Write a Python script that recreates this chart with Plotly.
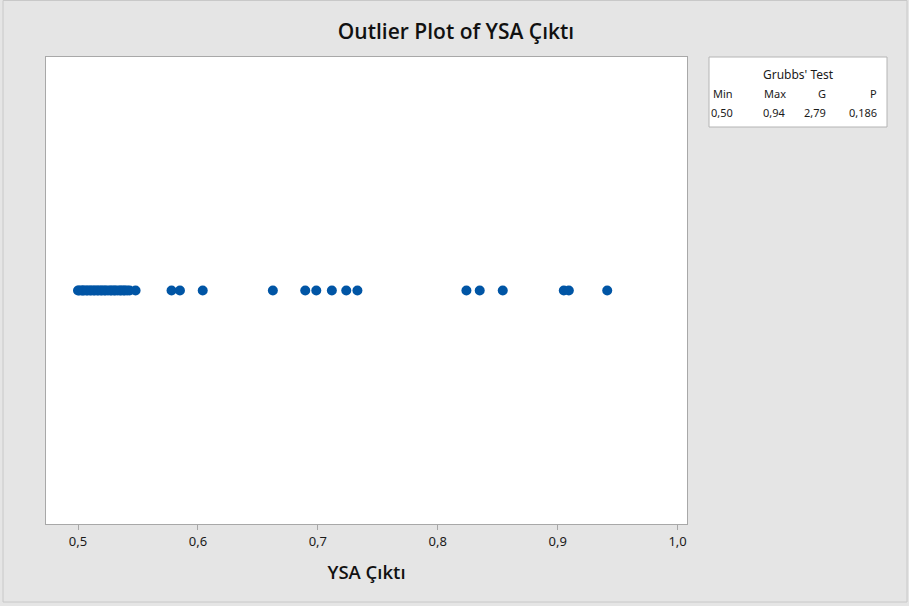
import plotly.graph_objects as go

# YSA output values
ysa_cikti = [
    0.500, 0.501, 0.503, 0.504, 0.505, 0.507, 0.508, 0.510, 0.511, 0.513,
    0.514, 0.516, 0.517, 0.519, 0.520, 0.522, 0.523, 0.525, 0.527, 0.528,
    0.530, 0.531, 0.533, 0.535, 0.536, 0.538, 0.539, 0.541, 0.543, 0.548,
    0.578, 0.585, 0.604, 0.6625, 0.6895, 0.6987, 0.7117, 0.7237, 0.733,
    0.8239, 0.835, 0.8542, 0.9051, 0.9093, 0.9413,
]

tick_vals = [0.5, 0.6, 0.7, 0.8, 0.9, 1.0]
tick_text = ["0,5", "0,6", "0,7", "0,8", "0,9", "1,0"]

# Grubbs' test summary
grubbs_headers = ["Min", "Max", "G", "P"]
grubbs_values = ["0,50", "0,94", "2,79", "0,186"]

FONT = "Noto Sans"
TITLE_FONT = "Open Sans"
BLUE = "#0055a5"
BORDER = "#a8a8a8"
TEXT = "#1a1a1a"

fig = go.Figure()
fig.add_trace(go.Scatter(
    x=ysa_cikti,
    y=[0] * len(ysa_cikti),
    mode="markers",
    marker=dict(size=10, color=BLUE),
    hoverinfo="x",
))

# plot area in pixels: x 46..687, y 57..524
L, R, T, B = 46, 687, 57, 524
W, H = R - L, B - T


def px(x):
    return (x - L) / W


def py(y):
    return (B - y) / H


shapes = [
    # outer frame
    dict(type="rect", xref="paper", yref="paper",
         x0=px(3), x1=px(907), y0=py(602), y1=py(0.5),
         line=dict(color="#c8c8c8", width=1), fillcolor="rgba(0,0,0,0)",
         layer="below"),
    # Grubbs table box
    dict(type="rect", xref="paper", yref="paper",
         x0=px(709), x1=px(887), y0=py(127), y1=py(57),
         line=dict(color="#b4b4b4", width=1), fillcolor="white"),
]

small = dict(family=FONT, size=11, color=TEXT)
annotations = [
    dict(text="Grubbs' Test", xref="paper", yref="paper",
         x=px(799), y=py(74), xanchor="center", yanchor="middle",
         showarrow=False, font=dict(family=FONT, size=12, color=TEXT)),
]
col_right = [735, 788, 828, 879]
for xr, h, v in zip(col_right, grubbs_headers, grubbs_values):
    annotations.append(dict(text=h, xref="paper", yref="paper",
                            x=px(xr), y=py(93), xanchor="right", yanchor="middle",
                            showarrow=False, font=small))
    annotations.append(dict(text=v, xref="paper", yref="paper",
                            x=px(xr), y=py(112), xanchor="right", yanchor="middle",
                            showarrow=False, font=small))

fig.update_layout(
    width=909, height=606,
    margin=dict(l=L, r=909 - R, t=T, b=606 - B, pad=0),
    paper_bgcolor="#e5e5e5",
    plot_bgcolor="white",
    showlegend=False,
    title=dict(text="Outlier Plot of YSA Çıktı", x=456 / 909,
               xanchor="center", y=1 - 32 / 606, yanchor="middle",
               font=dict(family=TITLE_FONT, size=21, color="#111", weight=600)),
    xaxis=dict(
        range=[0.5 - (78 - L) / 1199, 1.0 + (R - 677.6) / 1199],
        tickvals=tick_vals, ticktext=tick_text,
        ticks="outside", ticklen=5, tickcolor=BORDER, tickwidth=1,
        showgrid=False, zeroline=False,
        showline=True, mirror=True, linecolor=BORDER, linewidth=1,
        tickfont=dict(family=FONT, size=13, color=TEXT),
        title=dict(text="YSA Çıktı", standoff=17,
                   font=dict(family=TITLE_FONT, size=18.5, color="#111", weight=600)),
    ),
    yaxis=dict(
        range=[-1, 1], showticklabels=False, ticks="",
        showgrid=False, zeroline=False,
        showline=True, mirror=True, linecolor=BORDER, linewidth=1,
    ),
    shapes=shapes,
    annotations=annotations,
)

fig.write_html("out.html")
